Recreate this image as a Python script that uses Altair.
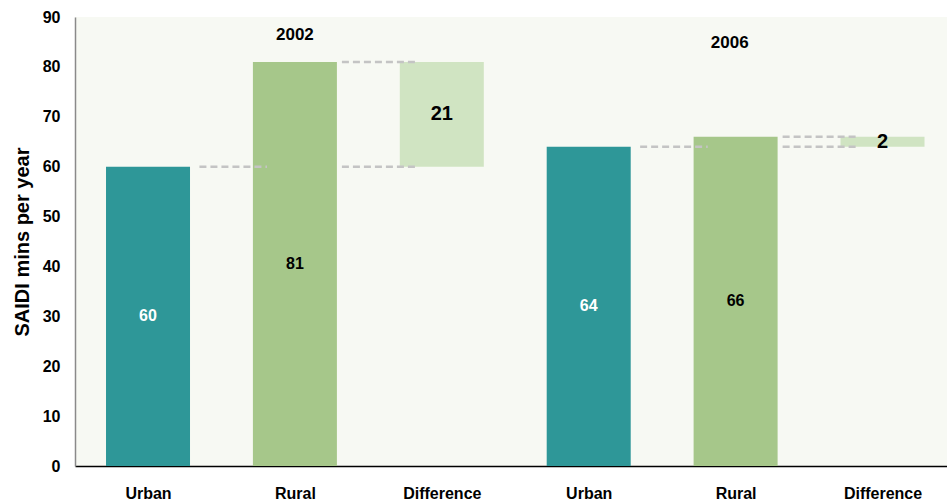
import altair as alt
import pandas as pd

# Source values
years = ["2002", "2006"]
urban = [60, 64]
rural = [81, 66]
tick_labels = ["Urban", "Rural", "Difference", "Urban", "Rural", "Difference"]

FONT = "Liberation Sans"
C_URBAN = "#2e9798"
C_RURAL = "#a6c78a"
C_DIFF = "#d0e4c2"
C_BG = "#f7f9f3"

rows = []
for g, (yr, u, r) in enumerate(zip(years, urban, rural)):
    base = g * 3
    diff = r - u
    rows.append(dict(idx=base, kind="Urban", lo=0, hi=u, label=str(u), year=yr))
    rows.append(dict(idx=base + 1, kind="Rural", lo=0, hi=r, label=str(r), year=yr))
    rows.append(dict(idx=base + 2, kind="Difference", lo=min(u, r), hi=max(u, r),
                     label=str(abs(diff)), year=yr))
bars = pd.DataFrame(rows)

# connector dashes between neighbouring bars at the level they share
links = []
for g, (u, r) in enumerate(zip(urban, rural)):
    base = g * 3
    links.append(dict(a=base + 0.35, b=base + 0.81, v=u))
    links.append(dict(a=base + 1.32, b=base + 1.82, v=r))
    links.append(dict(a=base + 1.32, b=base + 1.82, v=u))
links = pd.DataFrame(links)

# year captions sit above each group's rural bar
years_df = pd.DataFrame(dict(year=years, x=[1.0, 3.96], y=[86.3, 84.7]))

label_expr = "[" + ",".join(f"'{t}'" for t in tick_labels) + "][datum.value]"

x_scale = alt.Scale(domain=[-0.463, 5.405], nice=False, zero=False)
y_scale = alt.Scale(domain=[0, 90], nice=False)

x_enc = alt.X(
    "idx:Q", scale=x_scale,
    axis=alt.Axis(values=list(range(6)), labelExpr=label_expr, title=None,
                  grid=False, ticks=False, domainColor="#000000", domainWidth=1.5,
                  labelFont=FONT, labelFontSize=16, labelFontWeight="bold",
                  labelColor="#000000", labelPadding=19),
)
y_enc = alt.Y(
    "hi:Q", scale=y_scale,
    axis=alt.Axis(values=list(range(0, 91, 10)), title="SAIDI mins per year",
                  grid=False, ticks=False, domainColor="#8a8a8a", domainWidth=1.5,
                  labelFont=FONT, labelFontSize=16, labelFontWeight="bold",
                  labelColor="#000000", labelPadding=15,
                  titleFont=FONT, titleFontSize=20, titleFontWeight="bold",
                  titleColor="#000000", titlePadding=10),
)

color = alt.Color(
    "kind:N",
    scale=alt.Scale(domain=["Urban", "Rural", "Difference"],
                    range=[C_URBAN, C_RURAL, C_DIFF]),
    legend=None,
)

bar_layer = alt.Chart(bars).mark_bar(size=84).encode(
    x=x_enc, y=y_enc, y2="lo:Q", color=color
)

rule_layer = alt.Chart(links).mark_rule(
    color="#c4c4c4", strokeWidth=2.5, strokeDash=[7, 4]
).encode(x=alt.X("a:Q", scale=x_scale), x2="b:Q", y=alt.Y("v:Q", scale=y_scale))

mid = alt.Chart(bars).transform_calculate(m="(datum.lo + datum.hi) / 2")

small_labels = mid.transform_filter("datum.kind != 'Difference'").mark_text(
    font=FONT, fontSize=16, fontWeight="bold"
).encode(
    x=alt.X("idx:Q", scale=x_scale),
    y=alt.Y("m:Q", scale=y_scale),
    text="label:N",
    color=alt.Color("kind:N", scale=alt.Scale(domain=["Urban", "Rural"],
                                              range=["#ffffff", "#000000"]),
                    legend=None),
)

diff_labels = mid.transform_filter("datum.kind == 'Difference'").mark_text(
    font=FONT, fontSize=20, fontWeight="bold", color="#000000"
).encode(
    x=alt.X("idx:Q", scale=x_scale),
    y=alt.Y("m:Q", scale=y_scale),
    text="label:N",
)

year_labels = alt.Chart(years_df).mark_text(
    font=FONT, fontSize=17, fontWeight="bold", color="#000000"
).encode(
    x=alt.X("x:Q", scale=x_scale),
    y=alt.Y("y:Q", scale=y_scale),
    text="year:N",
)

chart = alt.layer(
    bar_layer, rule_layer, small_labels, diff_labels, year_labels
).resolve_scale(color="independent").properties(
    width=872, height=449,
    autosize=alt.AutoSizeParams(type="none"),
    padding={"left": 75, "top": 17, "right": 0, "bottom": 38},
    background="#ffffff",
).configure_view(fill=C_BG, stroke=None)

chart.save("out.html", embed_options={"renderer": "svg", "actions": False})
